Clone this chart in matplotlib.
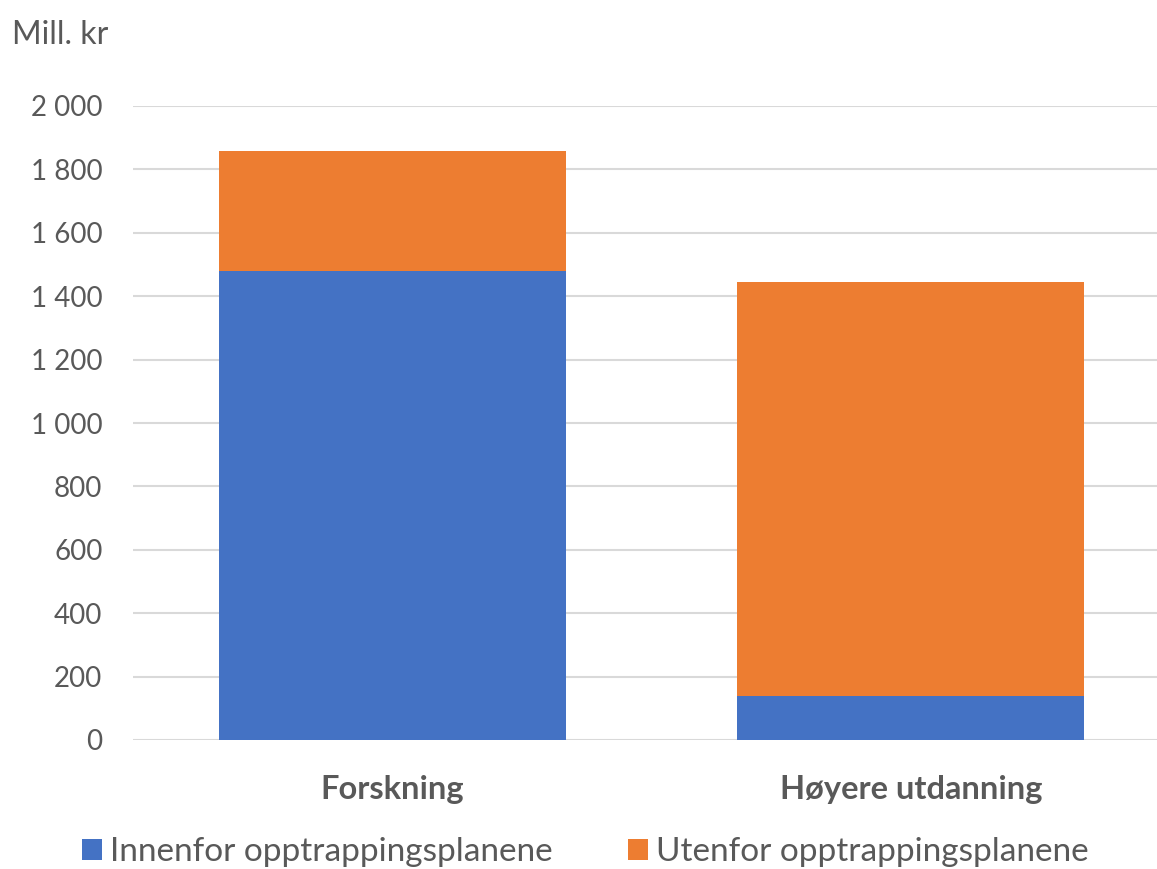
import matplotlib.pyplot as plt
from matplotlib.ticker import FuncFormatter

plt.rcParams['font.family'] = ['Lato', 'DejaVu Sans']

categories = ['Forskning', 'Høyere utdanning']
innenfor = [1479, 140]
utenfor = [1858 - 1479, 1444 - 140]
series_names = ['Innenfor opptrappingsplanene', 'Utenfor opptrappingsplanene']
colors = ['#4472C4', '#ED7D31']
text_color = '#595959'

fig = plt.figure(figsize=(11.57, 8.69), dpi=100)
# plot area runs past the right edge, like the cropped original
ax = fig.add_axes([133 / 1157, 129 / 869, (1170 - 133) / 1157, (763 - 129) / 869])

x = range(len(categories))
b1 = ax.bar(x, innenfor, width=0.67, color=colors[0], label=series_names[0], zorder=3)
b2 = ax.bar(x, utenfor, bottom=innenfor, width=0.67, color=colors[1], label=series_names[1], zorder=3)

ax.set_xlim(-0.5, 1.5)
ax.set_ylim(0, 2000)
ax.set_yticks(range(0, 2001, 200))
ax.yaxis.set_major_formatter(FuncFormatter(lambda v, p: f'{int(v):,}'.replace(',', ' ')))
ax.set_xticks(list(x))
ax.set_xticklabels(categories, fontweight='bold', fontsize=23.5, color=text_color)
ax.tick_params(axis='y', length=0, pad=22, labelsize=20, labelcolor=text_color)
ax.tick_params(axis='x', length=0, pad=25)
ax.grid(axis='y', color='#D9D9D9', linewidth=1.5, zorder=0)
for s in ax.spines.values():
    s.set_visible(False)

fig.text(12 / 1157, 1 - 35 / 869, 'Mill. kr', fontsize=23, color=text_color, va='center')

fig.legend(handles=[b1, b2], loc='center left', bbox_to_anchor=(82 / 1157, 1 - 852 / 869),
           ncol=2, frameon=False, fontsize=24, labelcolor=text_color,
           handlelength=0.6, handleheight=0.6, handletextpad=0.25,
           columnspacing=2.25, borderpad=0, borderaxespad=0)

fig.savefig('out.png', dpi=100)
